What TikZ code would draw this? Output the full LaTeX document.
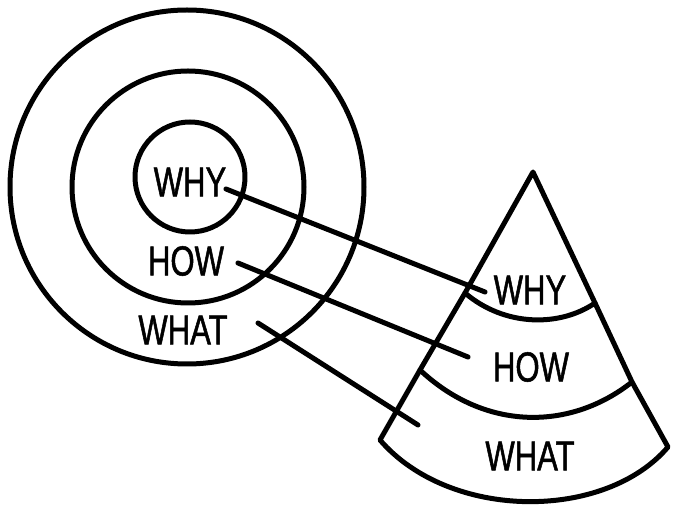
\documentclass[tikz,border=0pt]{standalone}
\usepackage{fontspec}
\setmainfont[FakeStretch=0.74,FakeBold=1.2]{Liberation Sans}
\begin{document}
\begin{tikzpicture}[x=1pt,y=-1pt,line width=5pt,line cap=round,line join=round,
    lbl/.style={inner sep=0pt,font=\fontsize{42}{42}\selectfont}]
    \useasboundingbox (0,0) rectangle (681,518);
    % golden circle
    \draw (187,187) circle (177pt);
    \draw (188,187) circle (116pt);
    \draw (190,177) circle (55pt);
    \node[lbl] (why)  at (190,182) {WHY};
    \node[lbl] (how)  at (186,261) {HOW};
    \node[lbl] (what) at (183,330) {WHAT};
    % cone
    \coordinate (apex) at (533,172);
    \coordinate (l1) at (465,293);
    \coordinate (l2) at (420,370);
    \coordinate (bl) at (380,440);
    \coordinate (r1) at (595,303);
    \coordinate (r2) at (632,382);
    \coordinate (br) at (668,447);
    \draw (apex) -- (r1) -- (r2) -- (br) .. controls (605,521) and (450,521) .. (bl)
        -- (l2) -- (l1) -- cycle;
    \draw (l1) .. controls (505,327) and (560,327) .. (r1);
    \draw (l2) .. controls (485,431) and (570,431) .. (r2);
    \node[lbl] (cwhy)  at (530,290) {WHY};
    \node[lbl] (chow)  at (531,367) {HOW};
    \node[lbl] (cwhat) at (530,456) {WHAT};
    % links
    \coordinate (why-in)  at (226,189);
    \coordinate (how-in)  at (238,263);
    \coordinate (what-in) at (258,323);
    \coordinate (why-out)  at (485,292);
    \coordinate (how-out)  at (468,357);
    \coordinate (what-out) at (418,425);
    \foreach \s in {why,how,what} {
        \draw (\s-in) -- (\s-out);
    }
\end{tikzpicture}
\end{document}
